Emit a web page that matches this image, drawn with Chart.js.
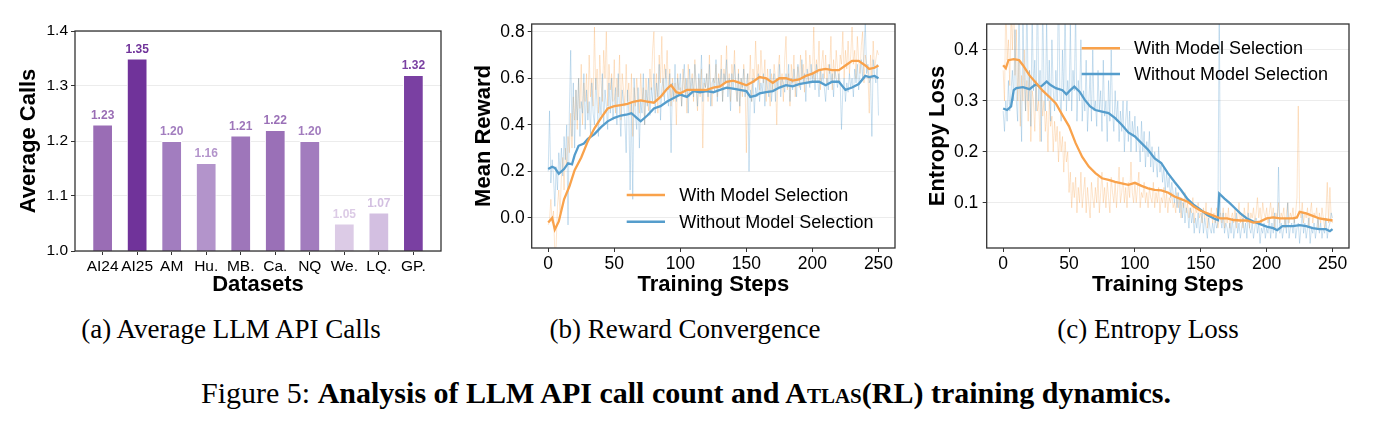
<!DOCTYPE html>
<html><head><meta charset="utf-8">
<script src="https://cdn.jsdelivr.net/npm/chart.js@4.4.0/dist/chart.umd.min.js"></script>
<style>
html,body{margin:0;padding:0;background:#fff;width:1373px;height:425px;overflow:hidden;position:relative;}
canvas{position:absolute;top:0;}
.cap{position:absolute;font-family:"Liberation Serif","Times New Roman",serif;color:#000;white-space:nowrap;transform:translateX(-50%);line-height:1;}
.sc{font-variant:small-caps;}
</style></head><body>
<canvas id="ca" width="460" height="300" style="left:0px"></canvas>
<canvas id="cb" width="450" height="300" style="left:460px"></canvas>
<canvas id="cc" width="463" height="300" style="left:910px"></canvas>
<div class="cap" style="left:231px;top:316px;font-size:27px">(a) Average LLM API Calls</div>
<div class="cap" style="left:685px;top:316px;font-size:27px">(b) Reward Convergence</div>
<div class="cap" style="left:1148px;top:316px;font-size:27px">(c) Entropy Loss</div>
<div class="cap" style="left:686px;top:378px;font-size:30px">Figure 5: <b>Analysis of LLM API call count and A<span class="sc">tlas</span>(RL) training dynamics.</b></div>
<script>
// ---------------- DATA ----------------
const categories = ['AI24','AI25','AM','Hu.','MB.','Ca.','NQ','We.','LQ.','GP.'];
const avgCalls = [1.23,1.35,1.20,1.16,1.21,1.22,1.20,1.05,1.07,1.32];
const barColors = ['#9a6db5','#70339a','#a27dbf','#b394cb','#9e76ba','#9a70b7','#a27cbe','#dccbe6','#d3bfe1','#7a40a2'];
const callTicks = [1.0,1.1,1.2,1.3,1.4];

const stepTicks = [0,50,100,150,200,250];
const rewardTicks = [0.0,0.2,0.4,0.6,0.8];
const entropyTicks = [0.1,0.2,0.3,0.4];
const seriesNames = ['With Model Selection','Without Model Selection'];

// Reward raw (one value per step, 0..250)
const rewardWithRaw = [
-0.03,-0.01,0.08,-0.02,0.03,-0.15,-0.12,0.05,0.12,0.02,
0.18,0.26,0.12,0.3,0.22,0.35,0.28,0.45,0.3,0.52,
0.42,0.55,0.38,0.6,0.47,0.66,0.4,0.58,0.5,0.62,
0.45,0.7,0.52,0.6,0.48,0.82,0.55,0.64,0.45,0.7,
0.58,0.5,0.72,0.6,0.8,0.48,0.66,0.55,0.62,0.5,
0.68,0.45,0.6,0.52,0.7,0.42,0.62,0.55,0.48,0.66,
0.5,0.58,0.44,0.62,0.35,0.56,0.48,0.6,0.52,0.45,
0.62,0.5,0.56,0.4,0.6,0.52,0.46,0.64,0.55,0.72,
0.8,0.5,0.62,0.45,0.7,0.58,0.78,0.52,0.66,0.6,
0.72,0.55,0.64,0.48,0.6,0.5,0.58,0.4,0.62,0.52,
0.56,0.48,0.64,0.55,0.6,0.45,0.66,0.52,0.58,0.62,
0.5,0.68,0.55,0.46,0.6,0.52,0.64,0.3,0.58,0.56,
0.62,0.5,0.7,0.55,0.48,0.6,0.58,0.66,0.52,0.62,
0.56,0.7,0.5,0.64,0.58,0.74,0.55,0.62,0.5,0.66,
0.6,0.72,0.55,0.5,0.64,0.45,0.6,0.52,0.66,0.58,
0.28,0.62,0.55,0.7,0.5,0.64,0.58,0.76,0.6,0.66,
0.55,0.72,0.62,0.58,0.68,0.5,0.64,0.56,0.48,0.62,
0.55,0.66,0.6,0.4,0.64,0.7,0.56,0.62,0.5,0.68,
0.78,0.55,0.62,0.48,0.66,0.58,0.7,0.52,0.6,0.65,
0.56,0.7,0.6,0.66,0.54,0.72,0.62,0.58,0.7,0.64,
0.6,0.82,0.58,0.68,0.62,0.76,0.55,0.66,0.72,0.6,
0.7,0.58,0.66,0.62,0.78,0.55,0.68,0.6,0.72,0.64,
0.58,0.7,0.66,0.8,0.6,0.72,0.64,0.76,0.62,0.7,
0.82,0.66,0.72,0.6,0.78,0.68,0.62,0.74,0.8,0.58,
0.7,0.66,0.62,0.45,0.7,0.6,0.76,0.64,0.68,0.72,
0.7];
const rewardWithoutRaw = [
0.2,0.46,0.15,0.25,0.18,0.05,0.22,0.12,0.28,0.2,
0.3,0.18,0.35,0.25,0.4,-0.03,0.45,0.72,0.35,0.58,
0.3,0.55,0.42,0.6,0.35,0.5,0.45,0.62,0.38,0.55,
0.42,0.5,0.36,0.58,0.45,0.4,0.6,0.48,0.35,0.52,
0.44,0.62,0.4,0.55,0.48,0.38,0.58,0.45,0.6,0.42,
0.5,0.56,0.4,0.62,0.46,0.35,0.55,0.5,0.42,0.28,
0.55,0.45,0.12,0.5,0.08,0.6,0.44,0.38,0.56,0.3,
0.5,0.45,0.62,0.4,0.55,0.48,0.6,0.44,0.56,0.5,
0.62,0.45,0.58,0.52,0.66,0.42,0.56,0.6,0.5,0.64,
0.55,0.48,0.62,0.28,0.58,0.52,0.66,0.5,0.6,0.55,
0.62,0.48,0.58,0.66,0.52,0.6,0.45,0.64,0.55,0.6,
0.52,0.66,0.58,0.48,0.62,0.55,0.7,0.5,0.6,0.56,
0.62,0.52,0.66,0.48,0.58,0.6,0.54,0.68,0.5,0.6,
0.56,0.64,0.5,0.62,0.58,0.68,0.52,0.6,0.46,0.62,
0.55,0.66,0.58,0.5,0.62,0.48,0.6,0.56,0.64,0.52,
0.58,0.62,0.2,0.55,0.5,0.6,0.45,0.56,0.52,0.62,
0.5,0.58,0.54,0.62,0.48,0.6,0.56,0.52,0.64,0.5,
0.58,0.62,0.5,0.6,0.56,0.66,0.52,0.6,0.58,0.54,
0.62,0.56,0.66,0.5,0.6,0.55,0.64,0.58,0.52,0.66,
0.6,0.55,0.68,0.58,0.62,0.5,0.64,0.6,0.56,0.66,
0.58,0.62,0.55,0.66,0.6,0.52,0.64,0.58,0.62,0.56,
0.5,0.6,0.55,0.66,0.58,0.62,0.52,0.64,0.6,0.56,
0.62,0.58,0.38,0.55,0.6,0.5,0.58,0.54,0.62,0.56,
0.6,0.52,0.64,0.58,0.66,0.55,0.62,0.68,0.6,0.7,
0.85,0.62,0.66,0.58,0.6,0.35,0.68,0.62,0.58,0.66,
0.44];
// Reward smoothed (sampled steps)
const rewardWithSmoothSteps = [0,3,5,8,12,16,20,25,30,35,40,45,50,55,60,65,70,75,80,85,90,93,97,100,105,110,115,120,125,130,135,140,145,150,155,160,165,170,175,180,185,190,195,200,205,210,215,220,225,230,235,240,243,247,250];
const rewardWithSmooth = [-0.02,0.0,-0.05,-0.015,0.08,0.135,0.205,0.26,0.33,0.385,0.43,0.47,0.48,0.485,0.49,0.5,0.505,0.5,0.495,0.52,0.555,0.57,0.54,0.535,0.55,0.55,0.55,0.55,0.56,0.565,0.585,0.59,0.58,0.57,0.585,0.605,0.6,0.58,0.6,0.6,0.59,0.595,0.61,0.62,0.635,0.64,0.635,0.635,0.655,0.675,0.675,0.655,0.64,0.645,0.655];
const rewardWithoutSmoothSteps = [0,3,5,8,12,15,18,20,23,27,30,35,40,45,50,55,60,63,67,70,75,80,85,90,95,100,105,110,115,120,125,130,135,140,145,150,153,157,160,165,170,175,180,185,190,195,200,205,210,215,220,225,230,235,240,243,247,250];
const rewardWithoutSmooth = [0.21,0.22,0.215,0.19,0.21,0.235,0.23,0.27,0.31,0.32,0.34,0.36,0.39,0.415,0.43,0.44,0.445,0.45,0.43,0.415,0.44,0.47,0.48,0.5,0.515,0.53,0.52,0.545,0.54,0.545,0.54,0.55,0.56,0.555,0.55,0.545,0.52,0.525,0.535,0.54,0.545,0.56,0.57,0.565,0.575,0.58,0.585,0.585,0.57,0.585,0.585,0.55,0.56,0.575,0.61,0.605,0.61,0.6];

// Entropy raw
const entropyWithRaw = [
0.36,0.3,0.5,0.38,0.42,0.33,0.48,0.4,0.52,0.35,
0.44,0.3,0.38,0.25,0.35,0.3,0.4,0.28,0.34,0.26,
0.36,0.22,0.32,0.3,0.24,0.34,0.28,0.3,0.22,0.32,
0.27,0.3,0.24,0.28,0.2,0.3,0.25,0.27,0.2,0.26,
0.22,0.25,0.18,0.24,0.2,0.23,0.16,0.22,0.18,0.2,
0.12,0.16,0.09,0.14,0.11,0.15,0.08,0.13,0.1,0.16,
0.09,0.12,0.15,0.08,0.13,0.1,0.07,0.14,0.11,0.09,
0.13,0.1,0.15,0.08,0.12,0.16,0.1,0.13,0.09,0.14,
0.11,0.08,0.15,0.12,0.1,0.14,0.09,0.13,0.17,0.1,
0.12,0.15,0.1,0.13,0.09,0.14,0.11,0.18,0.12,0.1,
0.14,0.1,0.13,0.16,0.09,0.12,0.11,0.14,0.1,0.12,
0.09,0.13,0.11,0.1,0.14,0.09,0.12,0.1,0.13,0.08,
0.11,0.1,0.13,0.09,0.12,0.08,0.11,0.1,0.12,0.09,
0.1,0.08,0.12,0.09,0.11,0.07,0.1,0.09,0.12,0.08,
0.1,0.07,0.09,0.08,0.11,0.06,0.09,0.08,0.1,0.07,
0.08,0.06,0.09,0.07,0.1,0.05,0.08,0.07,0.09,0.06,
0.08,0.06,0.09,0.05,0.07,0.08,0.06,0.09,0.05,0.08,
0.06,0.09,0.05,0.07,0.08,0.06,0.09,0.05,0.07,0.1,
0.06,0.08,0.05,0.09,0.07,0.06,0.1,0.05,0.08,0.07,
0.09,0.06,0.08,0.11,0.07,0.09,0.06,0.1,0.08,0.07,
0.09,0.06,0.08,0.1,0.07,0.09,0.05,0.08,0.07,0.1,
0.06,0.08,0.07,0.09,0.05,0.08,0.1,0.06,0.08,0.07,
0.09,0.06,0.08,0.11,0.29,0.09,0.07,0.1,0.06,0.08,
0.07,0.09,0.05,0.08,0.1,0.06,0.08,0.07,0.09,0.05,
0.08,0.06,0.09,0.07,0.05,0.08,0.14,0.06,0.13,0.07,
0.06];
const entropyWithoutRaw = [
0.28,0.24,0.3,0.26,0.34,0.28,0.32,0.36,0.3,0.44,
0.3,0.26,0.5,0.32,0.22,0.46,0.34,0.28,0.52,0.3,
0.36,0.25,0.48,0.32,0.38,0.28,0.55,0.3,0.36,0.22,
0.5,0.33,0.28,0.46,0.3,0.38,0.26,0.42,0.32,0.28,
0.36,0.3,0.55,0.32,0.26,0.4,0.3,0.5,0.28,0.34,
0.3,0.45,0.28,0.36,0.32,0.48,0.26,0.34,0.3,0.42,
0.26,0.32,0.28,0.38,0.24,0.3,0.35,0.26,0.4,0.28,
0.3,0.25,0.36,0.28,0.32,0.24,0.38,0.27,0.3,0.22,
0.34,0.26,0.4,0.28,0.24,0.32,0.26,0.3,0.22,0.28,
0.24,0.3,0.2,0.26,0.3,0.22,0.28,0.2,0.26,0.23,
0.27,0.2,0.25,0.22,0.18,0.26,0.2,0.24,0.17,0.22,
0.19,0.24,0.17,0.21,0.16,0.2,0.18,0.15,0.21,0.16,
0.18,0.14,0.17,0.12,0.16,0.13,0.15,0.11,0.14,0.12,
0.1,0.13,0.09,0.12,0.08,0.11,0.07,0.1,0.06,0.09,
0.08,0.05,0.09,0.06,0.08,0.04,0.07,0.05,0.08,0.04,
0.06,0.08,0.04,0.07,0.05,0.03,0.07,0.05,0.04,0.06,
0.04,0.07,0.05,0.06,0.5,0.07,0.05,0.08,0.04,0.06,
0.05,0.03,0.06,0.04,0.07,0.03,0.05,0.08,0.04,0.06,
0.03,0.05,0.07,0.04,0.06,0.03,0.08,0.05,0.04,0.06,
0.03,0.05,0.07,0.04,0.06,0.02,0.05,0.04,0.06,0.03,
0.05,0.04,0.07,0.03,0.06,0.04,0.08,0.03,0.05,0.17,
0.04,0.06,0.03,0.05,0.07,0.04,0.1,0.03,0.05,0.06,
0.04,0.07,0.03,0.05,0.06,0.02,0.05,0.08,0.04,0.06,
0.03,0.05,0.07,0.02,0.05,0.04,0.06,0.03,0.05,0.07,
0.04,0.06,0.03,0.05,0.04,0.07,0.03,0.05,0.06,0.08,
0.07];
// Entropy smoothed (sampled steps)
const entropyWithSmoothSteps = [0,2,4,8,12,15,20,25,30,35,40,45,50,55,60,65,70,75,80,85,90,95,100,105,110,115,120,125,130,135,140,145,150,155,160,165,170,175,180,185,190,195,200,205,210,215,220,223,225,230,235,240,245,250];
const entropyWithSmooth = [0.37,0.364,0.38,0.382,0.38,0.37,0.35,0.335,0.32,0.308,0.295,0.272,0.25,0.217,0.19,0.171,0.158,0.148,0.145,0.141,0.138,0.135,0.139,0.133,0.128,0.125,0.124,0.12,0.112,0.107,0.102,0.092,0.084,0.079,0.074,0.069,0.069,0.066,0.065,0.065,0.061,0.063,0.069,0.071,0.069,0.069,0.069,0.071,0.082,0.079,0.074,0.069,0.067,0.065];
const entropyWithoutSmoothSteps = [0,3,6,8,10,15,20,25,28,30,33,36,40,45,48,51,54,58,62,66,70,75,80,85,90,95,100,105,110,115,120,125,130,135,140,145,150,155,160,163,164,168,172,176,180,185,190,195,200,205,208,212,215,220,225,230,235,240,245,248,250];
const entropyWithoutSmooth = [0.285,0.282,0.289,0.321,0.325,0.327,0.323,0.333,0.327,0.331,0.338,0.331,0.325,0.321,0.313,0.321,0.328,0.318,0.302,0.289,0.282,0.279,0.276,0.266,0.253,0.238,0.23,0.217,0.204,0.187,0.178,0.158,0.141,0.125,0.107,0.095,0.086,0.076,0.069,0.066,0.118,0.108,0.099,0.089,0.079,0.069,0.063,0.058,0.053,0.05,0.046,0.054,0.054,0.054,0.056,0.054,0.05,0.048,0.048,0.044,0.048];

// ---------------- STYLE / HELPERS ----------------
const ORANGE = '#f9a24b', BLUE = '#559dcc';
const ORANGE_RAW = 'rgba(249,162,75,0.28)', BLUE_RAW = 'rgba(85,157,204,0.3)';
const SANS = '"Liberation Sans", Arial, sans-serif';
Chart.defaults.font.family = SANS;
Chart.defaults.color = '#000';
Chart.defaults.animation = false;

const pts = (xs, ys) => ys.map((y, i) => ({x: xs[i], y}));
const rawPts = ys => ys.map((y, i) => ({x: i, y}));

const framePlugin = {
  id: 'frame',
  afterDraw(chart) {
    const {ctx, chartArea: a} = chart;
    ctx.save(); ctx.strokeStyle = '#333'; ctx.lineWidth = 1.3;
    ctx.strokeRect(a.left, a.top, a.right - a.left, a.bottom - a.top);
    ctx.restore();
  }
};
const legendPlugin = {
  id: 'inLegend',
  afterDraw(chart, args, o) {
    if (!o || !o.x) return;
    const {ctx} = chart;
    const items = chart.data.datasets.filter(d => d.legend);
    ctx.save();
    ctx.font = '18px ' + SANS; ctx.textBaseline = 'middle'; ctx.fillStyle = '#000';
    items.forEach((d, i) => {
      const y = o.y + i * o.dy;
      ctx.strokeStyle = d.borderColor; ctx.lineWidth = 2.6;
      ctx.beginPath(); ctx.moveTo(o.x, y); ctx.lineTo(o.x + o.len, y); ctx.stroke();
      ctx.fillText(d.label, o.x + o.len + o.gap, y + 1);
    });
    ctx.restore();
  }
};
const barLabelPlugin = {
  id: 'barLabels',
  afterDatasetsDraw(chart) {
    const {ctx} = chart;
    const meta = chart.getDatasetMeta(0);
    ctx.save(); ctx.font = 'bold 12px ' + SANS; ctx.textAlign = 'center'; ctx.textBaseline = 'bottom';
    meta.data.forEach((el, i) => {
      ctx.fillStyle = barColors[i];
      ctx.fillText(avgCalls[i].toFixed(2), el.x, el.y - 3);
    });
    ctx.restore();
  }
};

function yScale(min, max, ticks, width, fontSize, titleText, titlePad, tickPad) {
  return {
    type: 'linear', min, max,
    afterBuildTicks: s => { s.ticks = ticks.map(v => ({value: v})); },
    afterFit: s => { s.width = width; },
    ticks: {font: {size: fontSize}, color: '#000', padding: tickPad, callback: v => Number(v).toFixed(1)},
    grid: {color: '#ececec', lineWidth: 1, tickColor: '#333', tickLength: 4, drawTicks: true},
    border: {display: false},
    title: {display: true, text: titleText, font: {size: 22, weight: 'bold'}, color: '#000', padding: {top: titlePad, bottom: 0}}
  };
}
function xScale(min, max, ticks, height, fontSize, titleText, labelFn) {
  return {
    type: 'linear', min, max, offset: false,
    afterBuildTicks: s => { s.ticks = ticks.map(v => ({value: v})); },
    afterFit: s => { s.height = height; },
    ticks: {font: {size: fontSize}, color: '#000', padding: 2, maxRotation: 0, autoSkip: false, callback: labelFn},
    grid: {drawOnChartArea: false, offset: false, tickColor: '#333', tickLength: 4, drawTicks: true},
    border: {display: false},
    title: {display: true, text: titleText, font: {size: 22, weight: 'bold'}, color: '#000', padding: {top: 0, bottom: 2}}
  };
}
const lineDs = (label, data, color, width, legend) => ({
  type: 'line', label, data, borderColor: color, borderWidth: width, pointRadius: 0,
  fill: false, tension: 0, clip: 0, legend
});

// ---------------- CHART A ----------------
new Chart(document.getElementById('ca'), {
  type: 'bar',
  data: {datasets: [{
    label: 'Average Calls',
    data: avgCalls.map((v, i) => ({x: i, y: v})),
    backgroundColor: barColors, borderColor: '#ffffff', borderWidth: 1,
    barPercentage: 0.6, categoryPercentage: 1.0
  }]},
  options: {
    responsive: false,
    layout: {padding: {left: 0, right: 19, top: 31, bottom: 0}},
    plugins: {legend: {display: false}, tooltip: {enabled: false}},
    scales: {
      x: xScale(-0.8, 9.8, categories.map((c, i) => i), 49, 15.5, 'Datasets', v => categories[v]),
      y: yScale(1.0, 1.4, callTicks, 75, 15.5, 'Average Calls', 16, 3)
    }
  },
  plugins: [framePlugin, barLabelPlugin]
});

// ---------------- CHART B ----------------
new Chart(document.getElementById('cb'), {
  type: 'line',
  data: {datasets: [
    lineDs(seriesNames[0], pts(rewardWithSmoothSteps, rewardWithSmooth), ORANGE, 2.3, true),
    lineDs(seriesNames[1], pts(rewardWithoutSmoothSteps, rewardWithoutSmooth), BLUE, 2.3, true),
    lineDs(seriesNames[1] + ' (raw)', rawPts(rewardWithoutRaw), BLUE_RAW, 1, false),
    lineDs(seriesNames[0] + ' (raw)', rawPts(rewardWithRaw), ORANGE_RAW, 1, false)
  ]},
  options: {
    responsive: false,
    layout: {padding: {left: 0, right: 15, top: 24, bottom: 0}},
    plugins: {legend: {display: false}, tooltip: {enabled: false},
      inLegend: {x: 166.7, y: 195, dy: 26.7, len: 38.3, gap: 14.3}},
    scales: {
      x: xScale(-12.5, 262.5, stepTicks, 52, 17.5, 'Training Steps', v => String(v)),
      y: yScale(-0.129, 0.833, rewardTicks, 71.7, 17.5, 'Mean Reward', 10.5, 3)
    }
  },
  plugins: [framePlugin, legendPlugin]
});

// ---------------- CHART C ----------------
new Chart(document.getElementById('cc'), {
  type: 'line',
  data: {datasets: [
    lineDs(seriesNames[0], pts(entropyWithSmoothSteps, entropyWithSmooth), ORANGE, 2.3, true),
    lineDs(seriesNames[1], pts(entropyWithoutSmoothSteps, entropyWithoutSmooth), BLUE, 2.3, true),
    lineDs(seriesNames[1] + ' (raw)', rawPts(entropyWithoutRaw), BLUE_RAW, 1, false),
    lineDs(seriesNames[0] + ' (raw)', rawPts(entropyWithRaw), ORANGE_RAW, 1, false)
  ]},
  options: {
    responsive: false,
    layout: {padding: {left: 0, right: 24, top: 24, bottom: 0}},
    plugins: {legend: {display: false}, tooltip: {enabled: false},
      inLegend: {x: 171.7, y: 48.3, dy: 25.7, len: 38.3, gap: 14}},
    scales: {
      x: xScale(-12.5, 262.5, stepTicks, 52, 17.5, 'Training Steps', v => String(v)),
      y: yScale(0.011, 0.451, entropyTicks, 76.7, 17.5, 'Entropy Loss', 14.3, 4.4)
    }
  },
  plugins: [framePlugin, legendPlugin]
});
</script>
</body></html>
